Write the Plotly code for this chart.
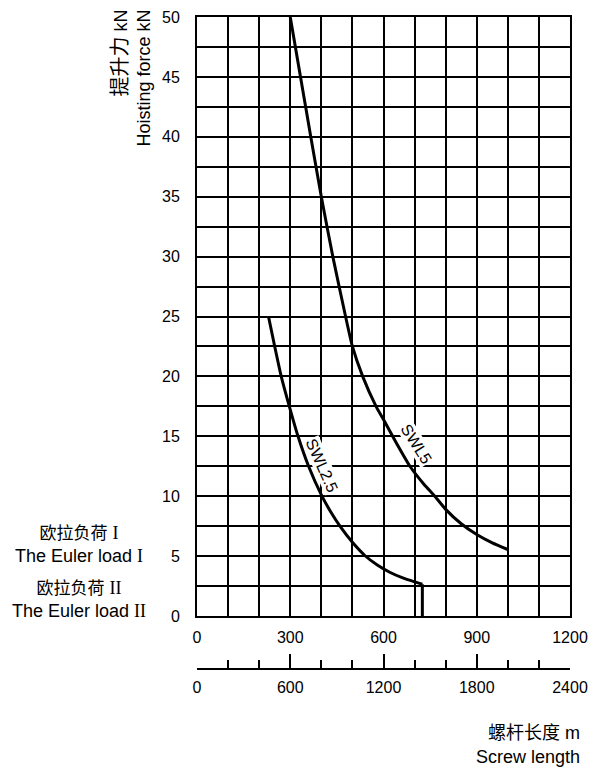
import plotly.graph_objects as go

# ---- data ----
swl25_x = [230, 250, 271, 297, 325, 359, 402, 430, 460, 500, 540, 580, 620, 660, 700, 725]
swl25_y = [25, 22.5, 20, 17.5, 15, 12.5, 10, 8.7, 7.5, 6.15, 5.05, 4.25, 3.65, 3.2, 2.85, 2.65]

euler_x = [725, 725]
euler_y = [2.65, 0]

swl5_x = [300, 333, 366, 400, 437, 478, 500, 533, 576, 600, 640, 685, 730, 765, 800, 850, 900, 950, 1000]
swl5_y = [50, 45, 40, 35, 30, 25, 22.5, 20, 17.5, 16.4, 14.5, 12.5, 11.0, 10.0, 8.9, 7.7, 6.8, 6.1, 5.55]

x_ticks = [0, 300, 600, 900, 1200]
x2_ticks = [0, 600, 1200, 1800, 2400]
y_ticks = [0, 5, 10, 15, 20, 25, 30, 35, 40, 45, 50]

FONT = "Liberation Sans, Arial, Noto Sans CJK SC, sans-serif"

W, H = 589, 767
L, R, T, B = 197, 19, 17, 98
PH = H - T - B  # paper height
plot_bottom_px = 616
ydom0 = (H - B - plot_bottom_px) / PH


def px2paper_x(px):
    return (px - L) / (W - L - R)


def px2paper_y(py):
    return (H - B - py) / PH


fig = go.Figure()
fig.add_trace(go.Scatter(x=swl25_x, y=swl25_y, mode="lines",
                         line=dict(color="black", width=3, shape="spline", smoothing=0.5),
                         hoverinfo="skip", showlegend=False))
fig.add_trace(go.Scatter(x=euler_x, y=euler_y, mode="lines",
                         line=dict(color="black", width=3),
                         hoverinfo="skip", showlegend=False))
fig.add_trace(go.Scatter(x=swl5_x, y=swl5_y, mode="lines",
                         line=dict(color="black", width=3, shape="spline", smoothing=0.5),
                         hoverinfo="skip", showlegend=False))
# invisible trace to carry the second (lower) x axis
fig.add_trace(go.Scatter(x=[x2_ticks[0], x2_ticks[-1]], y=[None, None], xaxis="x2",
                         mode="lines", showlegend=False, hoverinfo="skip"))

grid = dict(showgrid=True, gridcolor="black", gridwidth=1.6)

fig.update_layout(
    width=W, height=H,
    margin=dict(l=L, r=R, t=T, b=B, autoexpand=False),
    paper_bgcolor="white", plot_bgcolor="white",
    font=dict(family=FONT, size=16, color="black"),
    xaxis=dict(range=[0, 1200], tickvals=x_ticks, ticks="", showline=True,
               linecolor="black", linewidth=2, mirror=True, zeroline=False,
               ticklabelstandoff=6, automargin=False,
               minor=dict(dtick=100, tick0=0, showgrid=True, gridcolor="black",
                          gridwidth=1.6),
               **grid),
    yaxis=dict(range=[0, 50], domain=[ydom0, 1], tickvals=y_ticks, ticks="",
               showline=True, linecolor="black", linewidth=2, mirror=True,
               zeroline=False, ticklabelstandoff=12, automargin=False,
               minor=dict(dtick=2.5, tick0=0, showgrid=True, gridcolor="black",
                          gridwidth=1.6),
               **grid),
    xaxis2=dict(range=[0, 2400], overlaying="x", anchor="free", position=0,
                side="bottom", tickvals=x2_ticks, ticks="inside", ticklen=14,
                tickwidth=1.6, tickcolor="black", showline=True,
                linecolor="black", linewidth=1.6, showgrid=False, zeroline=False,
                ticklabelstandoff=4, automargin=False,
                minor=dict(dtick=200, tick0=0, ticks="inside", ticklen=8,
                           tickwidth=1.6, tickcolor="black", showgrid=False)),
)

SER = "<span style='font-family:Liberation Serif'>%s</span>"
ann = []
# y-axis title (two rotated lines)
ann.append(dict(text="<span style='font-size:20px'>提升力</span> kN<br>Hoisting force kN",
                textangle=-90, align="right", xref="paper", yref="paper",
                x=px2paper_x(131), y=px2paper_y(8), xanchor="center", yanchor="top",
                showarrow=False, font=dict(size=18)))
# Euler load labels
ann.append(dict(text="<span style='font-size:17px'>欧拉负荷</span> " + SER % "I"
                + "<br>The Euler load " + SER % "I",
                align="center", xref="paper", yref="paper", x=px2paper_x(79),
                y=px2paper_y(544), xanchor="center", yanchor="middle",
                showarrow=False, font=dict(size=18)))
ann.append(dict(text="<span style='font-size:17px'>欧拉负荷</span> " + SER % "II"
                + "<br>The Euler load " + SER % "II",
                align="center", xref="paper", yref="paper", x=px2paper_x(79),
                y=px2paper_y(599), xanchor="center", yanchor="middle",
                showarrow=False, font=dict(size=18)))
# x-axis title
ann.append(dict(text="<span style='font-size:18px'>螺杆长度</span> m", xref="paper",
                yref="paper", x=px2paper_x(582), y=px2paper_y(733),
                xanchor="right", yanchor="middle", showarrow=False, font=dict(size=18)))
ann.append(dict(text="Screw length", xref="paper", yref="paper", x=px2paper_x(582),
                y=px2paper_y(757), xanchor="right", yanchor="middle", showarrow=False,
                font=dict(size=18)))
# curve labels
ann.append(dict(text="SWL2.5", x=403, y=12.6, xref="x", yref="y", textangle=66,
                showarrow=False, bgcolor="white", borderpad=0, font=dict(size=16)))
ann.append(dict(text="SWL5", x=706, y=14.3, xref="x", yref="y", textangle=58,
                showarrow=False, bgcolor="white", borderpad=0, font=dict(size=16)))

fig.update_layout(annotations=ann)
fig.write_html("out.html")
